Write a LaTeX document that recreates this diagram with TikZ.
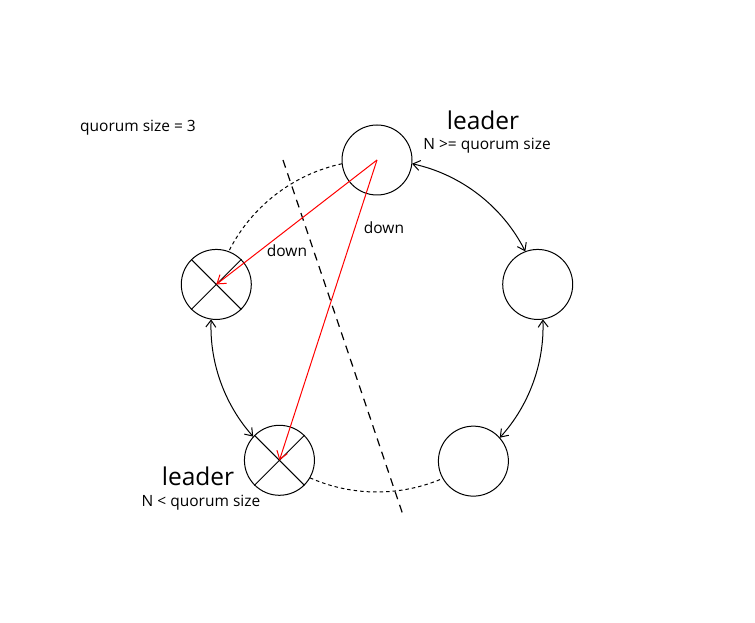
\documentclass[tikz,border=0pt]{standalone}
\usepackage{fontspec}
\setmainfont{Open Sans}
\usetikzlibrary{arrows.meta}
\begin{document}
\begin{tikzpicture}[x=1pt,y=1pt,
  peer/.style={circle,draw,line width=1pt,minimum size=70pt,inner sep=0pt},
  ring/.style={line width=1pt},
  dots/.style={line width=1pt,dash pattern=on 3.5pt off 3pt},
  cut/.style={line width=1.2pt,dash pattern=on 8pt off 6pt},
  barb/.style={{Straight Barb[length=7pt,width=10pt]}-{Straight Barb[length=7pt,width=10pt]}},
  redarr/.style={red,line width=1pt,-{Straight Barb[length=8pt,width=11pt]}},
  lbl/.style={font=\fontsize{15.5}{18}\selectfont,inner sep=0pt},
  big/.style={font=\fontsize{24.5}{28}\selectfont,inner sep=0pt}]
\useasboundingbox (0,0) rectangle (755,622);
\begin{scope}[shift={(377,296)}]
\def\R{166}
\node[peer] (top) at (90:\R) {};
\node[peer] (left) at (165.5:\R) {};
\node[peer] (bl) at (234:\R) {};
\node[peer] (br) at (305.5:\R) {};
\node[peer] (right) at (14.5:\R) {};
\draw[ring] (left.north west) -- (left.south east) (left.north east) -- (left.south west);
\draw[ring] (bl.north west) -- (bl.south east) (bl.north east) -- (bl.south west);
\draw[ring,barb] (77.8:\R) arc[start angle=77.8,end angle=26.7,radius=\R];
\draw[ring,barb] (2.3:\R) arc[start angle=2.3,end angle=-42.3,radius=\R];
\draw[ring,barb] (177.7:\R) arc[start angle=177.7,end angle=221.8,radius=\R];
\draw[dots] (102.2:\R) arc[start angle=102.2,end angle=153.3,radius=\R];
\draw[dots] (246.2:\R) arc[start angle=246.2,end angle=293.3,radius=\R];
\end{scope}
\coordinate (c1) at (283,462);
\coordinate (c2) at (403,107);
\draw[cut] (c1) -- (c2);
\draw[redarr] (top.center) -- (left.center);
\draw[redarr] (top.center) -- (bl.center);
\node[lbl] (d1) at (287,371) {down};
\node[lbl] (d2) at (384,394) {down};
\node[big] (l1) at (483,502) {leader};
\node[lbl] (n1) at (487,476) {N >= quorum size};
\node[big] (l2) at (198,146) {leader};
\node[lbl] (n2) at (201,119) {N < quorum size};
\node[lbl] (q) at (138,494) {quorum size = 3};
\end{tikzpicture}
\end{document}
